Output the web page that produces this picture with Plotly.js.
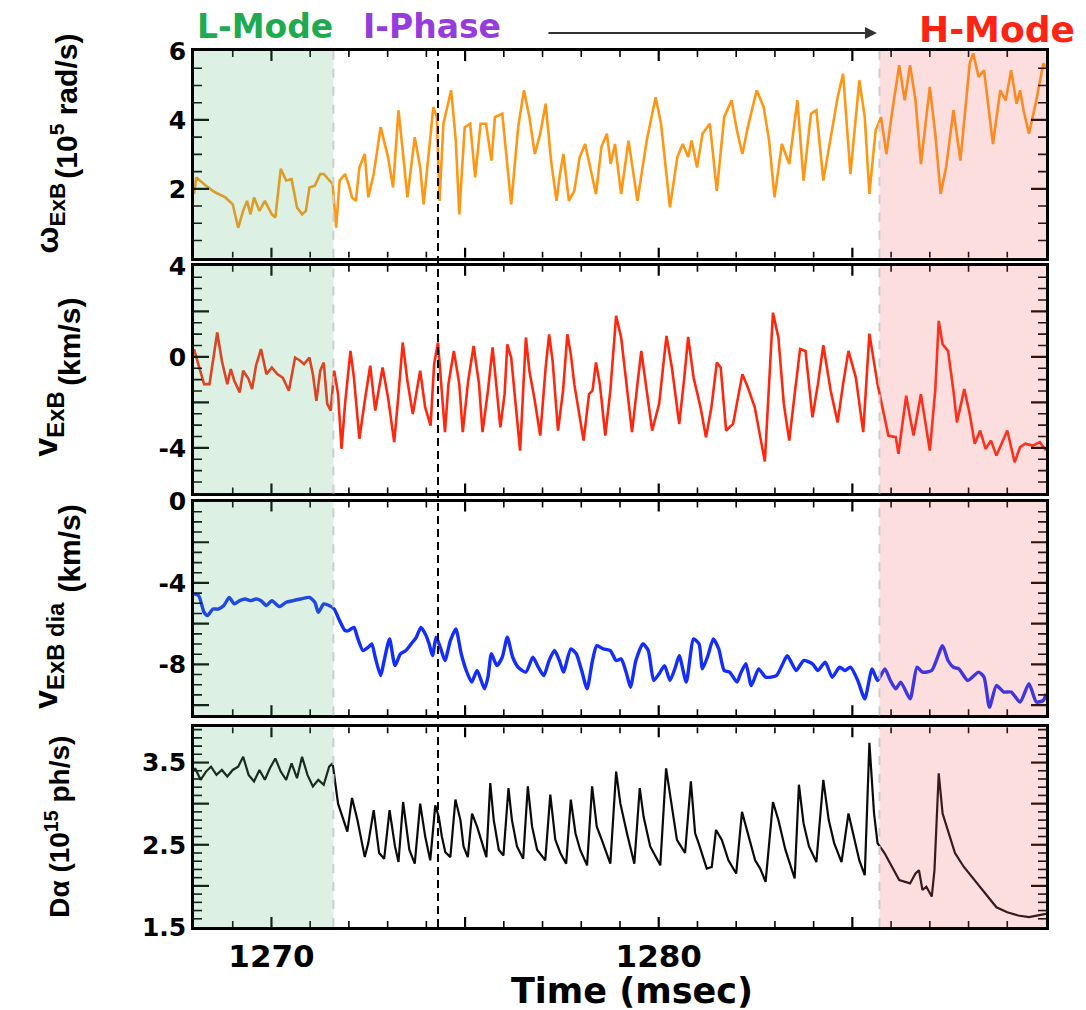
<!DOCTYPE html>
<html>
<head>
<meta charset="utf-8">
<script src="https://cdn.plot.ly/plotly-3.0.1.min.js"></script>
<style>html,body{margin:0;padding:0;background:#fff;}#chart{width:1086px;height:1010px;}</style>
</head>
<body>
<div id="chart"></div>
<script>
// ---------- data ----------
const omegaTime = [1268.0,1268.06,1268.31,1268.54,1268.81,1269.00,1269.14,1269.27,1269.37,1269.46,1269.55,
1269.69,1269.83,1270.01,1270.10,1270.24,1270.38,1270.52,1270.66,1270.79,1270.89,
1270.98,1271.12,1271.26,1271.35,1271.49,1271.58,1271.67,1271.76,1271.90,1271.99,
1272.08,1272.18,1272.27,1272.41,1272.50,1272.64,1272.82,1272.91,1273.01,1273.14,
1273.28,1273.38,1273.51,1273.70,1273.84,1273.93,1274.07,1274.18,1274.27,1274.34,
1274.44,1274.64,1274.76,1274.85,1274.99,1275.13,1275.26,1275.40,1275.54,1275.68,
1275.77,1275.96,1276.19,1276.37,
1276.52,1276.66,1276.80,1276.94,1277.08,1277.22,1277.36,1277.45,1277.54,1277.68,
1277.82,1277.96,1278.10,1278.24,1278.38,1278.52,1278.66,1278.76,1278.87,1279.03,
1279.22,1279.45,1279.69,1279.92,1280.06,1280.29,1280.48,1280.62,1280.76,1280.85,
1280.99,1281.13,1281.32,1281.50,1281.69,1281.88,1282.02,1282.16,1282.30,1282.53,
1282.71,1282.85,1282.99,1283.18,1283.37,1283.58,1283.74,1283.93,1284.07,1284.25,
1284.44,1284.62,1284.76,1284.95,1285.18,1285.32,1285.44,1285.60,1285.74,1285.88,
1286.02,1286.21,1286.35,1286.49,1286.63,1286.77,1287.00,1287.14,1287.28,1287.42,
1287.61,1287.79,1288.03,1288.12,1288.26,1288.40,1288.63,1288.82,1288.96,1289.10,
1289.24,1289.33,1289.42,1289.56,1289.75,1289.93,1290.00];
const omegaExB = [1.85,2.33,2.09,1.9,1.75,1.55,0.87,1.36,1.65,1.26,1.75,
1.36,1.65,1.26,1.17,2.58,2.24,2.28,1.46,1.26,1.36,
2.04,2.09,2.43,2.43,2.24,2.14,0.87,2.24,2.43,2.14,
1.75,1.65,2.62,3.01,1.75,2.43,3.79,3.4,2.92,2.04,
4.28,3.21,1.75,3.5,2.62,1.55,3.21,4.37,4.08,1.65,
3.89,4.86,3.4,1.26,3.79,3.89,2.33,3.89,3.89,2.82,
4.08,4.18,1.55,3.79,
4.86,4.08,3.01,3.6,4.47,2.82,1.65,2.43,3.01,1.65,
1.94,2.92,3.3,2.62,1.85,3.21,3.6,2.72,3.3,1.85,
3.4,1.65,3.4,4.66,3.89,1.46,2.92,3.3,2.92,3.4,
2.62,3.6,3.89,1.94,4.08,4.57,3.69,3.01,3.79,4.86,
4.37,3.4,1.75,3.3,2.72,4.57,2.24,4.18,4.28,2.24,
3.5,4.66,5.34,2.43,5.15,4.08,1.85,3.69,4.08,3.01,
4.18,5.59,4.57,5.59,4.57,2.72,4.96,3.6,1.85,2.62,
4.28,2.82,5.64,5.93,5.25,5.44,3.3,4.86,4.57,5.44,
4.47,4.86,4.28,3.6,4.57,5.64,5.54];

const vTime = [1268.0,1268.12,1268.26,1268.40,1268.49,1268.60,1268.72,1268.86,1268.95,1269.04,
1269.18,1269.27,1269.41,1269.50,1269.60,1269.73,1269.87,1270.01,1270.15,1270.29,
1270.45,1270.61,1270.75,1270.84,1270.98,1271.07,1271.16,1271.26,1271.35,1271.44,
1271.53,1271.62,1271.72,1271.81,1271.90,1272.04,1272.13,1272.27,1272.41,1272.55,
1272.68,1272.87,1273.01,1273.17,1273.28,1273.39,1273.51,1273.65,1273.84,1273.97,
1274.11,1274.20,1274.30,1274.39,1274.48,1274.57,1274.71,1274.85,1274.94,1275.08,
1275.22,1275.36,1275.45,1275.59,1275.71,1275.82,1275.91,1276.02,1276.09,1276.19,
1276.32,1276.42,1276.57,1276.66,1276.80,1276.94,1277.08,1277.17,1277.26,1277.40,
1277.53,1277.64,1277.73,1277.82,1278.06,1278.20,1278.29,1278.38,1278.48,1278.62,
1278.75,1278.90,1279.03,1279.31,1279.45,1279.55,1279.69,1279.83,1280.01,1280.20,
1280.34,1280.53,1280.66,1280.76,1280.90,1281.08,1281.22,1281.36,1281.50,1281.60,
1281.74,1281.92,1282.16,1282.30,1282.48,1282.74,1282.95,1283.09,1283.23,1283.37,
1283.51,1283.65,1283.79,1283.97,1284.11,1284.25,1284.44,1284.62,1284.76,1284.90,
1285.09,1285.28,1285.44,1285.65,1285.93,1286.12,1286.19,1286.39,1286.49,1286.58,
1286.77,1286.86,1287.00,1287.14,1287.23,1287.33,1287.47,1287.61,1287.70,1287.89,
1288.03,1288.16,1288.30,1288.44,1288.58,1288.72,1288.86,1289.00,1289.19,1289.33,
1289.47,1289.66,1289.84,1290.0];
const vExB = [0.34,-0.32,-1.2,-1.2,-0.18,1.07,-0.18,-1.2,-0.54,-1.05,
-1.56,-0.61,-0.98,-1.42,-0.39,0.34,-0.76,-0.47,-0.76,-0.91,
-1.49,-0.03,-0.18,-0.32,-0.03,-0.76,-1.93,-0.61,-0.25,-2.07,
-2.36,-0.61,-1.64,-4.04,-2.07,0.26,-0.91,-3.6,-1.93,-0.39,
-2.36,-0.47,-1.78,-3.75,-1.64,0.63,-1.05,-2.51,-0.61,-2.22,
-3.02,-0.32,0.63,-1.2,-3.31,-1.2,0.26,-1.2,-3.31,-1.05,
0.48,-1.2,-3.31,-1.49,0.41,-1.49,-3.1,-1.64,0.55,-0.03,
-2.36,-4.12,0.85,-0.61,-1.93,-3.46,-0.47,0.99,-0.18,-3.24,
-1.49,0.99,0.12,-1.2,-3.68,-1.64,-1.49,-0.25,-1.2,-3.46,
-1.49,1.8,0.85,-3.31,-1.2,0.26,-1.49,-3.24,-2.07,0.92,
-0.47,-2.95,-0.91,0.88,-0.91,-2.22,-3.53,-2.22,-0.25,-0.47,
-3.24,-2.95,-0.76,-1.34,-2.22,-4.6,1.94,0.85,-2.07,-3.68,
-1.64,0.34,0.26,-2.66,-1.2,0.51,-1.49,-2.88,-1.2,0.26,
-0.91,-3.31,1.02,-1.2,-3.46,-3.53,-4.26,-1.71,-2.66,-3.46,
-1.64,-2.66,-4.12,-1.49,1.58,0.55,0.26,-1.49,-2.88,-1.42,
-2.51,-3.82,-3.24,-4.04,-3.68,-4.34,-3.82,-3.24,-4.63,-3.97,
-3.82,-3.9,-3.75,-4.12];

const diaTime = [1268.0,1268.12,1268.26,1268.35,1268.49,1268.63,1268.77,1268.91,1269.04,1269.18,
1269.32,1269.46,1269.60,1269.73,1269.87,1270.01,1270.20,1270.38,1270.56,1270.75,
1270.98,1271.12,1271.21,1271.35,1271.49,1271.62,1271.76,1271.90,1271.99,1272.13,
1272.22,1272.36,1272.50,1272.59,1272.68,1272.82,1272.91,1273.05,1273.19,1273.33,
1273.47,1273.61,1273.74,1273.86,1273.97,1274.07,1274.16,1274.25,1274.36,1274.48,
1274.62,1274.76,1274.90,1275.03,1275.17,1275.31,1275.50,1275.59,1275.68,1275.82,
1275.96,1276.09,1276.23,1276.37,1276.57,1276.75,1276.89,1277.03,1277.17,1277.31,
1277.45,1277.54,1277.73,1277.87,1278.01,1278.15,1278.29,1278.40,1278.57,1278.75,
1278.90,1279.03,1279.17,1279.27,1279.41,1279.59,1279.73,1279.87,1280.01,1280.15,
1280.29,1280.43,1280.53,1280.71,1280.90,1281.04,1281.13,1281.27,1281.41,1281.55,
1281.69,1281.83,1282.02,1282.11,1282.25,1282.39,1282.58,1282.76,1283.04,1283.18,
1283.32,1283.55,1283.74,1283.97,1284.11,1284.30,1284.48,1284.67,1284.81,1284.95,
1285.14,1285.32,1285.51,1285.65,1285.84,1285.98,1286.12,1286.25,1286.49,1286.67,
1286.81,1287.05,1287.33,1287.47,1287.61,1287.75,1287.98,1288.26,1288.40,1288.54,
1288.72,1288.91,1289.10,1289.33,1289.56,1289.75,1289.93,1290.0];
const vExBdia = [-4.54,-4.62,-5.44,-5.6,-5.28,-5.28,-5.11,-4.71,-5.03,-4.87,
-4.79,-4.87,-4.79,-4.87,-5.11,-4.87,-5.16,-4.95,-4.87,-4.79,
-4.71,-4.95,-5.44,-5.03,-5.11,-5.28,-5.85,-6.34,-6.34,-6.18,
-6.67,-7.32,-7.16,-6.99,-7.65,-8.55,-7.81,-6.75,-8.06,-7.48,
-7.32,-6.99,-6.67,-6.18,-6.5,-6.99,-7.57,-6.67,-7.16,-7.81,
-6.83,-6.26,-7.48,-8.3,-8.87,-8.3,-9.2,-8.63,-7.48,-8.06,
-7.65,-6.67,-7.65,-8.14,-8.38,-7.65,-8.14,-8.55,-7.81,-7.32,
-7.89,-8.38,-7.24,-7.48,-8.3,-9.2,-7.81,-7.08,-7.24,-7.32,
-7.81,-7.73,-8.46,-9.12,-7.81,-6.99,-7.32,-8.79,-8.46,-8.06,
-8.79,-8.14,-7.57,-8.87,-6.75,-6.99,-8.22,-7.57,-6.75,-7.24,
-8.3,-8.38,-8.87,-8.46,-7.97,-9.04,-8.22,-8.63,-8.55,-8.06,
-7.57,-8.3,-7.81,-7.97,-8.3,-7.89,-8.63,-8.14,-8.3,-8.14,
-8.79,-9.69,-8.22,-8.79,-8.22,-8.79,-9.2,-8.87,-9.69,-8.14,
-8.38,-8.3,-7.08,-7.81,-8.14,-8.22,-8.79,-8.38,-8.63,-10.1,
-9.04,-9.36,-9.36,-9.85,-8.95,-9.85,-9.77,-9.44];

const dalphaTime = [1268.0,1268.03,1268.17,1268.31,1268.44,1268.58,1268.72,1268.86,1269.00,1269.14,
1269.27,1269.41,1269.55,1269.69,1269.83,1269.96,1270.10,1270.24,1270.38,1270.52,
1270.66,1270.79,1270.93,1271.07,1271.21,1271.35,1271.49,1271.58,1271.72,1271.85,
1271.96,1272.08,1272.22,1272.41,1272.50,1272.64,1272.78,1272.91,1273.05,1273.19,
1273.28,1273.40,1273.56,1273.70,1273.84,1273.97,1274.10,1274.23,1274.32,1274.40,
1274.49,1274.62,1274.75,1274.88,1274.96,1275.07,1275.18,1275.31,1275.44,1275.55,
1275.65,1275.74,1275.87,1275.99,1276.12,1276.21,1276.34,1276.50,1276.62,1276.73,
1276.86,1277.07,1277.20,1277.33,1277.46,1277.61,1277.73,1277.85,1277.97,1278.15,
1278.28,1278.40,1278.53,1278.75,1278.90,1279.01,1279.18,1279.37,1279.51,1279.61,
1279.78,1280.04,1280.19,1280.30,1280.47,1280.68,1280.83,1280.94,1281.03,1281.24,
1281.37,1281.48,1281.63,1281.80,1282.00,1282.15,1282.28,1282.49,1282.62,1282.76,
1282.95,1283.09,1283.27,1283.51,1283.62,1283.74,1283.88,1284.07,1284.25,1284.39,
1284.53,1284.72,1284.90,1285.04,1285.18,1285.32,1285.44,1285.56,1285.65,1285.83,
1286.02,1286.21,1286.49,1286.63,1286.72,1286.81,1286.91,1287.05,1287.12,1287.23,
1287.33,1287.47,1287.65,1287.88,1288.16,1288.44,1288.72,1289.00,1289.28,1289.56,
1289.84,1290.0];
const dalpha = [3.40,3.43,3.29,3.39,3.45,3.35,3.41,3.33,3.41,3.45,
3.57,3.35,3.27,3.41,3.29,3.43,3.55,3.39,3.29,3.49,
3.31,3.57,3.35,3.21,3.29,3.23,3.45,3.49,3.00,2.80,
2.66,3.07,2.80,2.35,2.52,2.92,2.40,2.33,2.92,2.48,
2.29,3.02,2.44,2.27,3.00,2.60,2.31,2.98,2.84,2.60,
2.41,2.35,3.05,2.80,2.48,2.35,2.88,2.72,2.52,2.35,
3.25,2.80,2.44,2.37,3.19,2.80,2.48,2.33,3.21,2.72,
2.44,2.31,3.11,2.56,2.40,2.27,3.05,2.64,2.44,2.25,
3.21,2.72,2.56,2.27,3.39,3.00,2.64,2.27,3.19,2.84,
2.48,2.25,3.43,3.09,2.56,2.40,3.27,2.64,2.52,2.21,
2.23,2.68,2.56,2.31,2.15,2.90,2.68,2.31,2.21,2.05,
3.02,2.80,2.44,2.09,3.23,2.76,2.48,2.29,3.29,2.80,
2.52,2.29,2.88,2.60,2.31,2.13,3.74,2.88,2.52,2.40,
2.23,2.07,2.03,2.15,2.19,1.95,1.99,1.87,2.19,3.37,
2.88,2.68,2.40,2.23,2.07,1.91,1.74,1.68,1.64,1.62,
1.64,1.66];

// phase boundaries (msec)
const lModeEnd = 1271.6;
const iPhaseMark = 1274.3;
const hModeStart = 1285.7;
const timeRange = [1268, 1290];

// tick labels
const xTickVals = [1270,1275,1280,1285,1290];
const xTickText = ['1270','','1280','','1290'];
const y1TickVals = [0,2,4,6],  y1TickText = ['','2','4','6'];
const y2TickVals = [-6,-4,-2,0,2,4], y2TickText = ['','-4','','0','','4'];
const y3TickVals = [-10,-8,-6,-4,-2,0], y3TickText = ['','-8','','-4','','0'];
const y4TickVals = [1.5,2,2.5,3,3.5], y4TickText = ['1.5','','2.5','','3.5'];

// ---------- layout geometry ----------
const W = 1086, H = 1010;
const M = {l:194, r:40, t:51, b:83, pad:0};
const plotW = W - M.l - M.r, plotH = H - M.t - M.b;
const panels = [
  {s:'',  dom:[0.764, 1.0],     range:[0, 6],      tv:y1TickVals, tt:y1TickText, minor:0.5, major:2},
  {s:'2', dom:[0.495, 0.7548],  range:[-6, 4],     tv:y2TickVals, tt:y2TickText, minor:0.5, major:2},
  {s:'3', dom:[0.2417, 0.4857], range:[-10.5, 0],  tv:y3TickVals, tt:y3TickText, minor:0.5, major:2},
  {s:'4', dom:[0, 0.2281],      range:[1.5, 3.93], tv:y4TickVals, tt:y4TickText, minor:0.1, major:0.5}
];

const tickFontY = {family:'DejaVu Sans', size:25, color:'#000', weight:'bold'};
const tickFontX = {family:'DejaVu Sans', size:31, color:'#000', weight:'bold'};

const traces = [
  {x: omegaTime, y: omegaExB, xaxis:'x', yaxis:'y', type:'scatter', mode:'lines',
   line:{color:'rgb(255,150,20)', width:2.6}, hoverinfo:'skip'},
  {x: vTime, y: vExB, xaxis:'x2', yaxis:'y2', type:'scatter', mode:'lines',
   line:{color:'rgb(255,40,15)', width:2.6}, hoverinfo:'skip'},
  {x: diaTime, y: vExBdia, xaxis:'x3', yaxis:'y3', type:'scatter', mode:'lines',
   line:{color:'rgb(20,45,255)', width:3.4, shape:'spline', smoothing:0.6}, hoverinfo:'skip'},
  {x: dalphaTime, y: dalpha, xaxis:'x4', yaxis:'y4', type:'scatter', mode:'lines',
   line:{color:'rgb(10,10,10)', width:2.2}, hoverinfo:'skip'}
];

// inside tick marks on all four sides of every panel (IDL style), drawn as line segments
// through each panel's own axes; lengths given in px and converted to axis units.
function isMult(v, step) { const r = v / step; return Math.abs(r - Math.round(r)) < 1e-6; }
function stepList(a, b, step) {
  const out = []; const n = Math.round((b - a) / step);
  for (let i = 0; i <= n; i++) out.push(+(a + i * step).toFixed(6));
  return out;
}
const xUnitsPerPx = (timeRange[1] - timeRange[0]) / plotW;
panels.forEach(p => {
  const hPx = (p.dom[1] - p.dom[0]) * plotH;
  const yUnitsPerPx = (p.range[1] - p.range[0]) / hPx;
  const seg = {major:{x:[], y:[]}, minor:{x:[], y:[]}};
  stepList(1269, 1289, 1).forEach(t => {
    const k = isMult(t, 5) ? 'major' : 'minor';
    const len = (k === 'major' ? 10 : 6) * yUnitsPerPx;
    seg[k].x.push(t, t, null, t, t, null);
    seg[k].y.push(p.range[0], p.range[0] + len, null, p.range[1], p.range[1] - len, null);
  });
  stepList(p.range[0], p.range[1], p.minor).forEach(v => {
    if (v <= p.range[0] + 1e-9 || v >= p.range[1] - 1e-9) return;
    const k = isMult(v, p.major) ? 'major' : 'minor';
    const len = (k === 'major' ? 15 : 8) * xUnitsPerPx;
    seg[k].x.push(timeRange[0], timeRange[0] + len, null, timeRange[1], timeRange[1] - len, null);
    seg[k].y.push(v, v, null, v, v, null);
  });
  ['minor', 'major'].forEach(k => traces.push({
    x: seg[k].x, y: seg[k].y, xaxis:'x' + p.s, yaxis:'y' + p.s, type:'scatter', mode:'lines',
    line:{color:'#000', width: k === 'major' ? 2.2 : 1.6}, connectgaps:false, hoverinfo:'skip', cliponaxis:false
  }));
});

const shapes = [];
panels.forEach(p => {
  const xr = 'x' + p.s, yr = 'y' + p.s + ' domain';
  shapes.push({type:'rect', xref:xr, yref:yr, x0:timeRange[0], x1:lModeEnd, y0:0, y1:1,
    fillcolor:'rgb(80,180,120)', opacity:0.2, line:{width:0}, layer:'above'});
  shapes.push({type:'rect', xref:xr, yref:yr, x0:hModeStart, x1:timeRange[1], y0:0, y1:1,
    fillcolor:'rgb(240,90,90)', opacity:0.2, line:{width:0}, layer:'above'});
  shapes.push({type:'line', xref:xr, yref:yr, x0:lModeEnd, x1:lModeEnd, y0:0, y1:1,
    line:{color:'rgb(205,205,205)', width:2, dash:'dash'}, layer:'above'});
  shapes.push({type:'line', xref:xr, yref:yr, x0:hModeStart, x1:hModeStart, y0:0, y1:1,
    line:{color:'rgb(205,205,205)', width:2, dash:'dash'}, layer:'above'});
});
shapes.push({type:'line', xref:'x', yref:'paper', x0:iPhaseMark, x1:iPhaseMark, y0:0, y1:1,
  line:{color:'#000', width:2, dash:'8px,5px'}, layer:'above'});

const tFont = (sz) => ({family:'Liberation Sans, Arial', size:sz, color:'#000'});
const annotations = [
  {text:'<b>L-Mode</b>', xref:'paper', yref:'paper', x:0.0833, y:1.0274, showarrow:false,
   font:{family:'DejaVu Sans', size:33, color:'rgb(30,170,80)'}, xanchor:'center', yanchor:'middle'},
  {text:'<b>I-Phase</b>', xref:'paper', yref:'paper', x:0.2793, y:1.0274, showarrow:false,
   font:{family:'DejaVu Sans', size:33, color:'rgb(150,60,220)'}, xanchor:'center', yanchor:'middle'},
  {text:'<b>H-Mode</b>', xref:'paper', yref:'paper', x:0.9425, y:1.024, showarrow:false,
   font:{family:'DejaVu Sans', size:36, color:'rgb(255,35,20)'}, xanchor:'center', yanchor:'middle'},
  {text:'', xref:'paper', yref:'paper', x:0.8016, y:1.0205, ax:-330, ay:0, showarrow:true,
   arrowhead:2, arrowsize:1.2, arrowwidth:2, arrowcolor:'#333', standoff:0},
  {text:'<b>Time (msec)</b>', xref:'paper', yref:'paper', x:0.514, y:-0.0735, showarrow:false,
   font:{family:'DejaVu Sans', size:35, color:'#000'}, xanchor:'center', yanchor:'middle'},
  // y-axis titles
  {text:'<b>ω<sub>ExB</sub></b>', xref:'paper', yref:'paper', x:-0.170, y:0.809, textangle:-90, showarrow:false,
   font:tFont(32), xanchor:'center', yanchor:'middle'},
  {text:'<b>(10<sup>5</sup> rad/s)</b>', xref:'paper', yref:'paper', x:-0.152, y:0.937, textangle:-90, showarrow:false,
   font:tFont(30), xanchor:'center', yanchor:'middle'},
  {text:'<b>v<sub>ExB</sub></b>', xref:'paper', yref:'paper', x:-0.172, y:0.574, textangle:-90, showarrow:false,
   font:tFont(34), xanchor:'center', yanchor:'middle'},
  {text:'<b>(km/s)</b>', xref:'paper', yref:'paper', x:-0.1455, y:0.668, textangle:-90, showarrow:false,
   font:tFont(30), xanchor:'center', yanchor:'middle'},
  {text:'<b>v<sub>ExB dia</sub></b>', xref:'paper', yref:'paper', x:-0.172, y:0.31, textangle:-90, showarrow:false,
   font:tFont(34), xanchor:'center', yanchor:'middle'},
  {text:'<b>(km/s)</b>', xref:'paper', yref:'paper', x:-0.1455, y:0.432, textangle:-90, showarrow:false,
   font:tFont(30), xanchor:'center', yanchor:'middle'},
  {text:'<b>Dα (10<sup>15</sup> ph/s)</b>', xref:'paper', yref:'paper', x:-0.16, y:0.114, textangle:-90, showarrow:false,
   font:tFont(28), xanchor:'center', yanchor:'middle'}
];

const layout = {
  width:W, height:H, autosize:false, margin:M,
  paper_bgcolor:'#fff', plot_bgcolor:'#fff',
  showlegend:false,
  shapes: shapes,
  annotations: annotations
};
panels.forEach((p, i) => {
  layout['xaxis' + p.s] = {
    anchor:'y' + p.s, domain:[0,1], range:timeRange,
    showline:true, mirror:true, linecolor:'#000', linewidth:2.5,
    ticks:'', tickmode:'array', tickvals:xTickVals, ticktext:xTickText,
    showticklabels: i === 3, tickfont: tickFontX,
    showgrid:false, zeroline:false
  };
  if (p.s) layout['xaxis' + p.s].matches = 'x';
  layout['yaxis' + p.s] = {
    anchor:'x' + p.s, domain:p.dom, range:p.range,
    showline:true, mirror:true, linecolor:'#000', linewidth:2.5,
    ticks:'', tickmode:'array', tickvals:p.tv, ticktext:p.tt,
    tickfont: tickFontY,
    showgrid:false, zeroline:false
  };
});

Plotly.newPlot('chart', traces, layout, {displayModeBar:false});
</script>
</body>
</html>
